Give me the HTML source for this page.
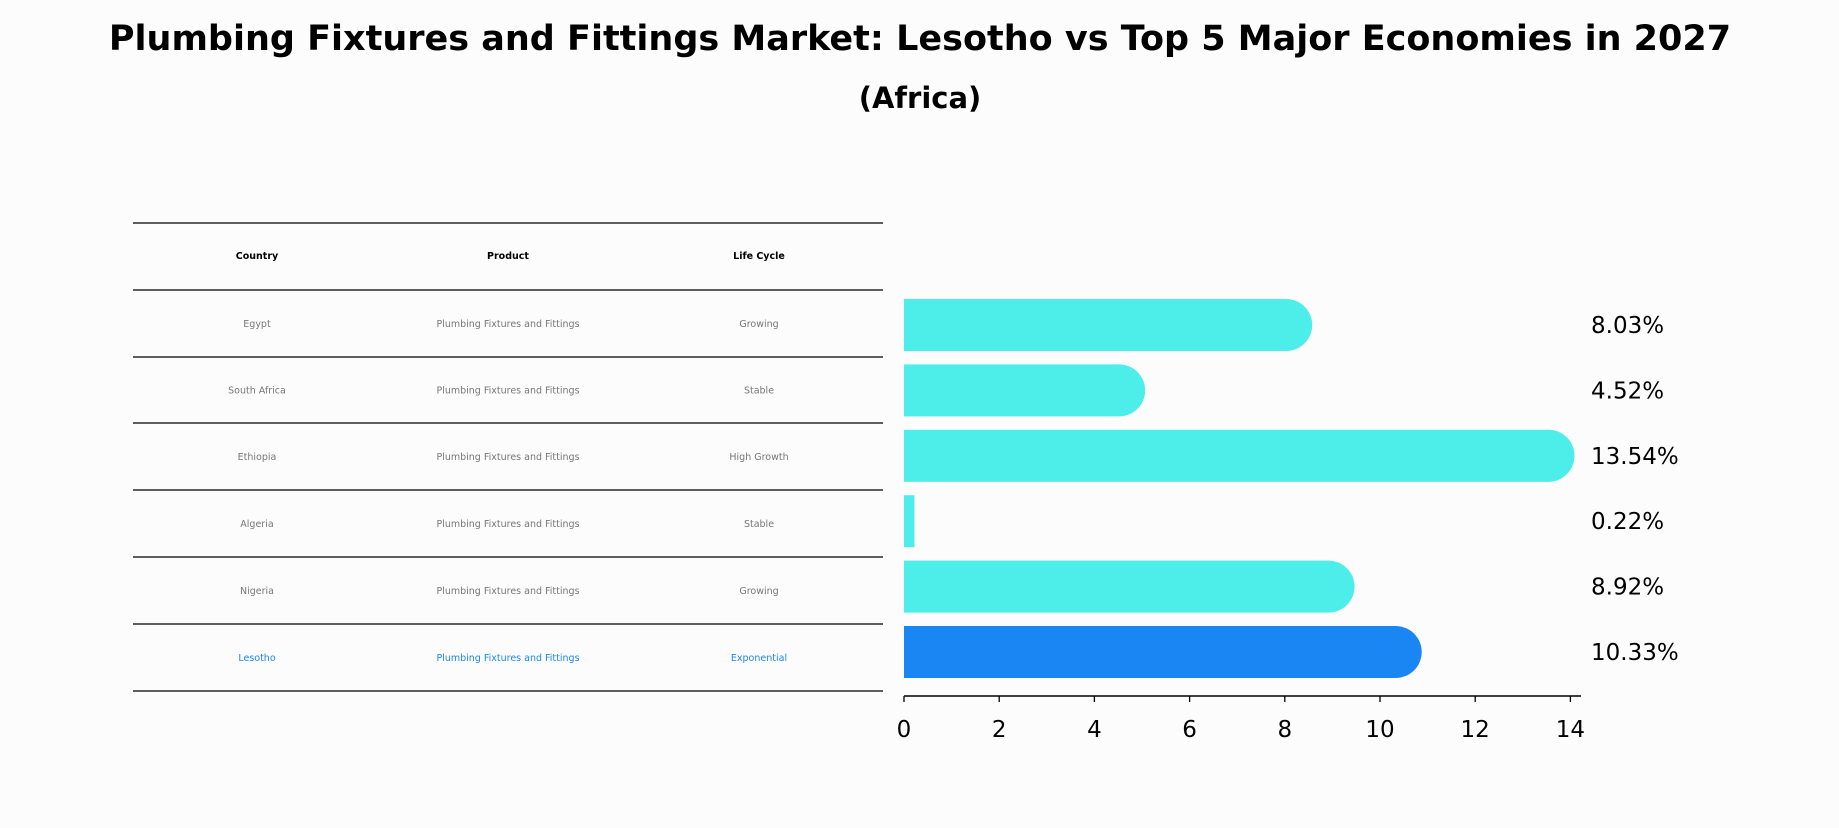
<!DOCTYPE html>
<html><head><meta charset="utf-8"><style>
html,body{margin:0;padding:0;background:#fcfcfc;}
body{width:1839px;height:823px;position:relative;overflow:hidden;font-family:"Liberation Sans","DejaVu Sans",sans-serif;}
</style></head><body>
<svg width="1839" height="823" xmlns="http://www.w3.org/2000/svg">
<rect width="1839" height="823" fill="#fcfcfc"/>
<text x="920" y="50" text-anchor="middle" font-size="35" font-weight="bold" font-family="DejaVu Sans, sans-serif">Plumbing Fixtures and Fittings Market: Lesotho vs Top 5 Major Economies in 2027</text>
<text x="920" y="108" text-anchor="middle" font-size="29" font-weight="bold" font-family="DejaVu Sans, sans-serif">(Africa)</text>
<g id="table"></g>
<g id="bars"></g>
</svg>
<script>
const countries=["Egypt","South Africa","Ethiopia","Algeria","Nigeria","Lesotho"];
const products=["Plumbing Fixtures and Fittings","Plumbing Fixtures and Fittings","Plumbing Fixtures and Fittings","Plumbing Fixtures and Fittings","Plumbing Fixtures and Fittings","Plumbing Fixtures and Fittings"];
const lifeCycles=["Growing","Stable","High Growth","Stable","Growing","Exponential"];
const values=[8.03,4.52,13.54,0.22,8.92,10.33];
const xTicks=[0,2,4,6,8,10,12,14];
const NS="http://www.w3.org/2000/svg";
function mk(tag,attrs,parent){const e=document.createElementNS(NS,tag);for(const k in attrs)e.setAttribute(k,attrs[k]);parent.appendChild(e);return e;}
const tbl=document.getElementById('table');
const lineYs=[223,290,357,423,490,557,624,691];
lineYs.forEach((y,i)=>{const l=mk('line',{x1:133,x2:883,y1:y,y2:y,stroke:'#000','stroke-width':1.2},tbl);

});
const colX=[257,508,759];
const hdr=["Country","Product","Life Cycle"];
hdr.forEach((h,i)=>{const t=mk('text',{x:colX[i],y:259,'text-anchor':'middle','font-size':9.5,'font-weight':'bold','font-family':'DejaVu Sans, sans-serif'},tbl);t.textContent=h;

});
countries.forEach((c,r)=>{const y=(lineYs[r+1]+lineYs[r+2])/2+3.5;const col=r===countries.length-1?'#1a86f4':'#777';
[c,products[r],lifeCycles[r]].forEach((v,i)=>{const t=mk('text',{x:colX[i],y:y,'text-anchor':'middle','font-size':9.5,fill:col,'font-family':'DejaVu Sans, sans-serif'},tbl);t.textContent=v;

});});
const g=document.getElementById('bars');
const x0=904,unit=47.6,axisY=696,barH=52,y0=325,pitch=65.4;
const xs=v=>x0+v*unit;
const ys=i=>y0+i*pitch;
values.forEach((v,i)=>{const col=i===values.length-1?'#1a86f4':'#4deeea';const cy=ys(i);
const r=mk('rect',{x:x0,y:cy-barH/2,width:xs(v)-x0,height:barH,fill:col},g);


if(v>1){const c=mk('circle',{cx:xs(v),cy:cy,r:barH/2,fill:col},g);

}
const t=mk('text',{x:1591,y:cy+8,'font-size':23,'font-family':'DejaVu Sans, sans-serif'},g);t.textContent=v.toFixed(2)+'%';

});
const ax=mk('line',{x1:x0,x2:1581,y1:axisY,y2:axisY,stroke:'#000','stroke-width':1.5},g);


xTicks.forEach(v=>{const l=mk('line',{x1:xs(v),x2:xs(v),y1:axisY,y2:axisY+6,stroke:'#000','stroke-width':1.3},g);


const t=mk('text',{x:xs(v),y:737,'text-anchor':'middle','font-size':23,'font-family':'DejaVu Sans, sans-serif'},g);t.textContent=v;

});
</script>
</body></html>
